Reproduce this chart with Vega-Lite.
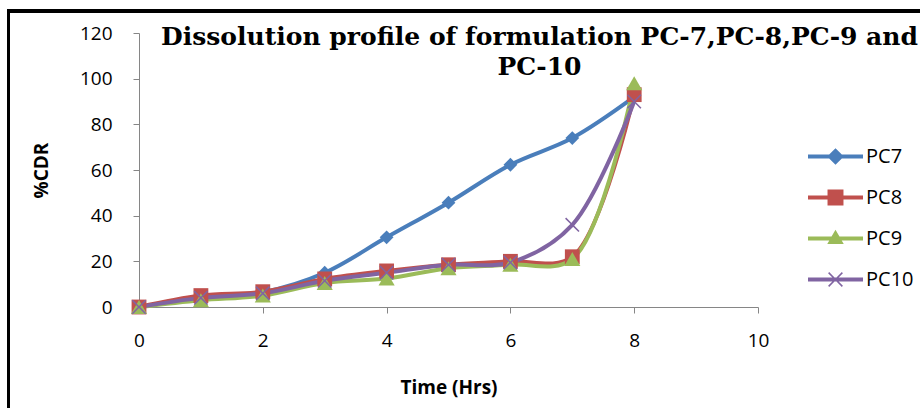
{
  "$schema": "https://vega.github.io/schema/vega-lite/v6.json",
  "autosize": "none",
  "width": 619,
  "height": 274,
  "padding": {"left": 139, "top": 33, "right": 162, "bottom": 101},
  "background": "white",
  "config": {
    "view": {"stroke": null},
    "axis": {
      "domainColor": "#868686",
      "tickColor": "#868686",
      "tickSize": 6,
      "grid": false,
      "labelFlush": false,
      "labelFont": "Open Sans",
      "labelFontSize": 19,
      "labelColor": "#000000",
      "titleFont": "Open Sans",
      "titleFontSize": 19,
      "titleFontWeight": "bold",
      "titleColor": "#000000"
    }
  },
  "title": {
    "text": ["Dissolution profile of formulation PC-7,PC-8,PC-9 and", "PC-10"],
    "font": "DejaVu Serif",
    "fontSize": 25,
    "fontWeight": "bold",
    "color": "#000000",
    "anchor": "middle",
    "frame": "group",
    "dx": 91,
    "offset": -70,
    "lineHeight": 30
  },
  "data": {
    "values": [
      {"t": 0, "cdr": 0, "series": "PC7"},
      {"t": 1, "cdr": 4, "series": "PC7"},
      {"t": 2, "cdr": 6.5, "series": "PC7"},
      {"t": 3, "cdr": 15, "series": "PC7"},
      {"t": 4, "cdr": 30.5, "series": "PC7"},
      {"t": 5, "cdr": 45.7, "series": "PC7"},
      {"t": 6, "cdr": 62.3, "series": "PC7"},
      {"t": 7, "cdr": 74, "series": "PC7"},
      {"t": 8, "cdr": 92, "series": "PC7"},
      {"t": 0, "cdr": 0, "series": "PC8"},
      {"t": 1, "cdr": 5, "series": "PC8"},
      {"t": 2, "cdr": 6.7, "series": "PC8"},
      {"t": 3, "cdr": 12.3, "series": "PC8"},
      {"t": 4, "cdr": 15.8, "series": "PC8"},
      {"t": 5, "cdr": 18.5, "series": "PC8"},
      {"t": 6, "cdr": 20, "series": "PC8"},
      {"t": 7, "cdr": 22, "series": "PC8"},
      {"t": 8, "cdr": 93, "series": "PC8"},
      {"t": 0, "cdr": 0, "series": "PC9"},
      {"t": 1, "cdr": 3, "series": "PC9"},
      {"t": 2, "cdr": 5, "series": "PC9"},
      {"t": 3, "cdr": 10.5, "series": "PC9"},
      {"t": 4, "cdr": 12.5, "series": "PC9"},
      {"t": 5, "cdr": 17, "series": "PC9"},
      {"t": 6, "cdr": 18.5, "series": "PC9"},
      {"t": 7, "cdr": 21, "series": "PC9"},
      {"t": 8, "cdr": 98, "series": "PC9"},
      {"t": 0, "cdr": 0, "series": "PC10"},
      {"t": 1, "cdr": 4, "series": "PC10"},
      {"t": 2, "cdr": 6, "series": "PC10"},
      {"t": 3, "cdr": 11.5, "series": "PC10"},
      {"t": 4, "cdr": 15, "series": "PC10"},
      {"t": 5, "cdr": 18.5, "series": "PC10"},
      {"t": 6, "cdr": 19.5, "series": "PC10"},
      {"t": 7, "cdr": 36, "series": "PC10"},
      {"t": 8, "cdr": 90, "series": "PC10"}
    ]
  },
  "encoding": {
    "x": {
      "field": "t",
      "type": "quantitative",
      "scale": {"domain": [0, 10], "nice": false},
      "axis": {"values": [0, 2, 4, 6, 8, 10], "title": "Time (Hrs)", "labelPadding": 18, "titlePadding": 28}
    },
    "y": {
      "field": "cdr",
      "type": "quantitative",
      "scale": {"domain": [0, 120], "nice": false},
      "axis": {"values": [0, 20, 40, 60, 80, 100, 120], "title": "%CDR", "labelPadding": 21, "titlePadding": 28}
    },
    "color": {
      "field": "series",
      "type": "nominal",
      "scale": {"domain": ["PC7", "PC8", "PC9", "PC10"], "range": ["#4A7EBB", "#C0504D", "#9BBB59", "#8064A2"]},
      "legend": {
        "title": null,
        "orient": "none",
        "legendX": 669,
        "legendY": 96,
        "symbolSize": 3025,
        "symbolType": "M-1,-0.07L1,-0.07L1,0.07L-1,0.07Z",
        "labelFont": "Open Sans",
        "labelFontSize": 20,
        "labelColor": "#000000",
        "labelOffset": 3,
        "rowPadding": 3,
        "encode": {
          "symbols": {
            "update": {
              "fill": {"scale": "color", "field": "value"},
              "stroke": {"value": "transparent"},
              "strokeWidth": {"value": 0},
              "shape": {"signal": "datum.value === 'PC7' ? 'M-1,-0.07L-0.23,-0.07L0,-0.3L0.23,-0.07L1,-0.07L1,0.07L0.23,0.07L0,0.3L-0.23,0.07L-1,0.07Z' : datum.value === 'PC8' ? 'M-1,-0.07L-0.29,-0.07L-0.29,-0.29L0.29,-0.29L0.29,-0.07L1,-0.07L1,0.07L0.29,0.07L0.29,0.29L-0.29,0.29L-0.29,0.07L-1,0.07Z' : datum.value === 'PC9' ? 'M-1,-0.07L-0.144,-0.07L0,-0.32L0.144,-0.07L1,-0.07L1,0.07L0.225,0.07L0.3,0.2L-0.3,0.2L-0.225,0.07L-1,0.07Z' : 'M-1,-0.07L1,-0.07L1,0.07L-1,0.07ZM-0.27,-0.23L-0.23,-0.27L0,-0.04L0.23,-0.27L0.27,-0.23L0.04,0L0.27,0.23L0.23,0.27L0,0.04L-0.23,0.27L-0.27,0.23L-0.04,0Z'"}
            }
          }
        }
      }
    }
  },
  "layer": [
    {
      "mark": {"type": "rect", "fill": null, "stroke": "#000000", "strokeWidth": 2.5, "clip": false},
      "encoding": {
        "x": {"datum": -2.11},
        "x2": {"datum": 14},
        "y": {"datum": 129.6},
        "y2": {"datum": -60},
        "color": null
      }
    },
    {
      "mark": {"type": "line", "interpolate": "catmull-rom", "strokeWidth": 4, "clip": false}
    },
    {
      "transform": [{"filter": "datum.series === 'PC7'"}],
      "mark": {"type": "point", "filled": true, "opacity": 1, "strokeWidth": 0, "shape": "diamond", "size": 190}
    },
    {
      "transform": [{"filter": "datum.series === 'PC8'"}],
      "mark": {"type": "point", "filled": true, "opacity": 1, "strokeWidth": 0, "shape": "square", "size": 220}
    },
    {
      "transform": [{"filter": "datum.series === 'PC9'"}],
      "mark": {"type": "point", "filled": true, "opacity": 1, "strokeWidth": 0, "shape": "triangle-up", "size": 260}
    },
    {
      "transform": [{"filter": "datum.series === 'PC10'"}],
      "mark": {"type": "point", "filled": true, "opacity": 1, "strokeWidth": 0, "size": 210, "shape": "M-1,-0.85L-0.85,-1L0,-0.15L0.85,-1L1,-0.85L0.15,0L1,0.85L0.85,1L0,0.15L-0.85,1L-1,0.85L-0.15,0Z"}
    }
  ]
}
